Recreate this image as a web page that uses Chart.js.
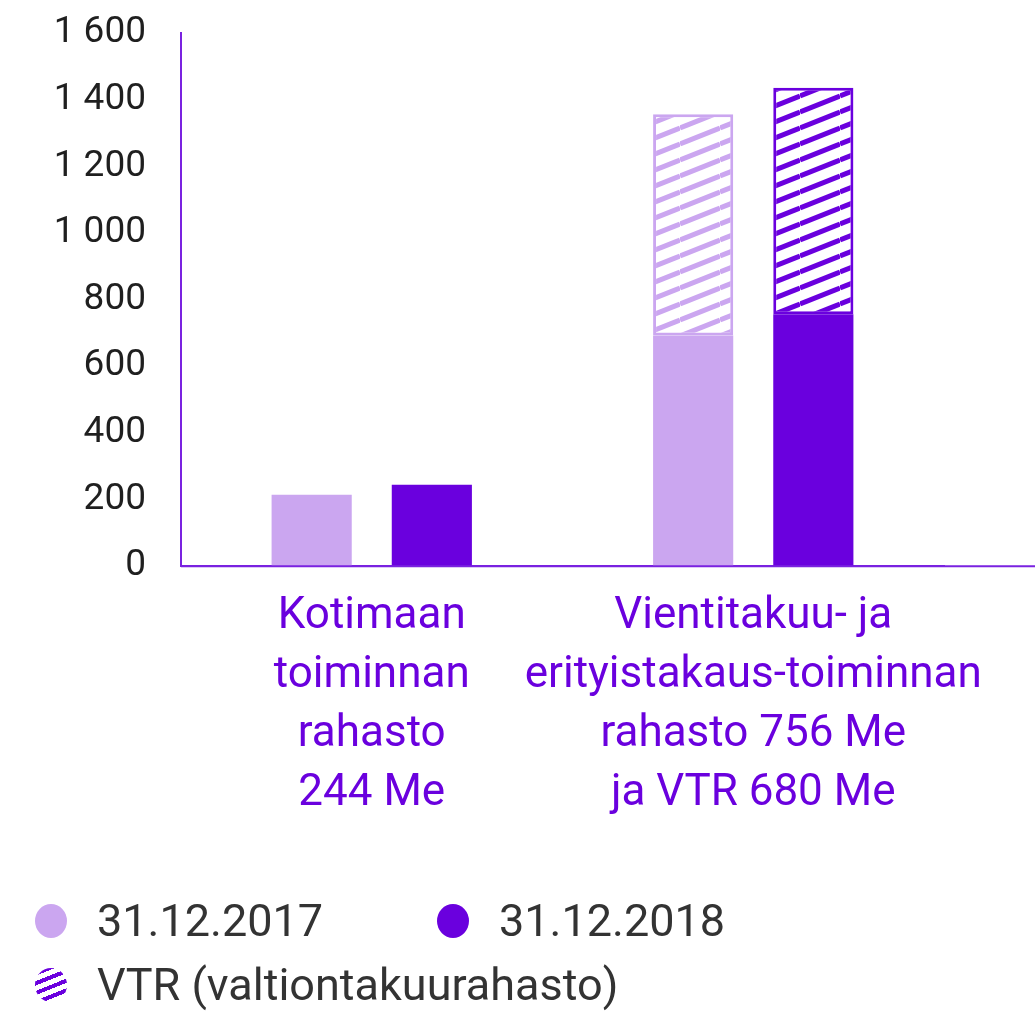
<!DOCTYPE html>
<html>
<head>
<meta charset="utf-8">
<script src="https://cdn.jsdelivr.net/npm/chart.js@4/dist/chart.umd.min.js"></script>
<style>
  body { margin: 0; background: #fff; }
  #wrap { position: relative; width: 1035px; height: 1011px; }
  #legend { position: absolute; left: 0; top: 0; font-family: Roboto, sans-serif; font-size: 45px; color: #333; }
  .item { position: absolute; white-space: nowrap; line-height: 50px; }
  .dot { position: absolute; width: 32px; height: 34px; border-radius: 50%; }
</style>
</head>
<body>
<div id="wrap">
  <canvas id="myChart" width="1035" height="1011"></canvas>
  <div id="legend">
    <span class="dot" style="left:35px;top:904px;background:#cba6f0"></span>
    <span class="item" style="left:97px;top:896px">31.12.2017</span>
    <span class="dot" style="left:437px;top:904px;background:#6a00de"></span>
    <span class="item" style="left:499px;top:896px">31.12.2018</span>
    <span class="dot" style="left:35px;top:968px;background:repeating-linear-gradient(-22deg,#6a00de 0 4px,#fff 4px 9px)"></span>
    <span class="item" style="left:97px;top:960px">VTR (valtiontakuurahasto)</span>
  </div>
</div>
<script>
	// rahastot, Me
	var categories = [
		['Kotimaan', 'toiminnan', 'rahasto', '244 Me'],
		['Vientitakuu- ja', 'erityistakaus-toiminnan', 'rahasto 756 Me', 'ja VTR 680 Me']
	];
	var rahasto2017 = [214, 692];
	var rahasto2018 = [244, 756];
	var vtr2017 = [0, 664];
	var vtr2018 = [0, 680];
	var yTicks = [0, 200, 400, 600, 800, 1000, 1200, 1400, 1600];

	var light = '#cba6f0';
	var dark = '#6a00de';

	function hatch(color) {
		var c = document.createElement('canvas');
		c.width = 40; c.height = 16;
		var x = c.getContext('2d');
		x.fillStyle = '#fff';
		x.fillRect(0, 0, 40, 16);
		x.strokeStyle = color;
		x.lineWidth = 5;
		for (var k = -1; k <= 1; k++) {
			x.beginPath();
			x.moveTo(0, 16 + k * 16);
			x.lineTo(40, k * 16);
			x.stroke();
		}
		return x.createPattern(c, 'repeat');
	}

	function fmt(v) {
		if (v >= 1000) return Math.floor(v / 1000) + ' ' + String(v % 1000).padStart(3, '0');
		return String(v);
	}

	// x axis line runs on to the right edge
	var axisExtend = {
		id: 'axisExtend',
		afterDraw: function(chart) {
			var a = chart.chartArea, ctx = chart.ctx;
			ctx.save();
			ctx.strokeStyle = '#7a22e0';
			ctx.lineWidth = 2;
			ctx.beginPath();
			ctx.moveTo(a.left, a.bottom);
			ctx.lineTo(chart.width, a.bottom);
			ctx.stroke();
			ctx.restore();
		}
	};

	var data = {
		labels: categories,
		datasets: [
			{ label: '31.12.2017', data: rahasto2017, backgroundColor: light, stack: 'a', borderWidth: 0 },
			{ label: '31.12.2018', data: rahasto2018, backgroundColor: dark, stack: 'b', borderWidth: 0 },
			{ label: 'VTR 2017', data: vtr2017, backgroundColor: hatch(light), borderColor: light, borderWidth: 3, borderSkipped: false, stack: 'a' },
			{ label: 'VTR 2018', data: vtr2018, backgroundColor: hatch(dark), borderColor: dark, borderWidth: 3, borderSkipped: false, stack: 'b' }
		]
	};

	var config = {
		type: 'bar',
		data: data,
		plugins: [axisExtend],
		options: {
			responsive: false,
			animation: false,
			categoryPercentage: 0.63,
			barPercentage: 0.667,
			layout: { padding: { top: 33, right: 91, bottom: 175, left: 0 } },
			plugins: {
				legend: { display: false },
				tooltip: { enabled: false }
			},
			scales: {
				x: {
					stacked: true,
					grid: { display: false },
					border: { display: true, color: '#7a22e0', width: 2 },
					ticks: {
						color: '#6a00de',
						padding: 13,
						maxRotation: 0,
						autoSkip: false,
						font: { family: 'Roboto', size: 44, lineHeight: 1.34 }
					}
				},
				y: {
					stacked: true,
					min: 0,
					max: 1600,
					afterFit: function(s) { s.width = 181; s.paddingTop = 0; s.paddingBottom = 0; },
					afterBuildTicks: function(s) { s.ticks = yTicks.map(function(v) { return { value: v }; }); },
					grid: { display: false, drawTicks: false },
					border: { display: true, color: '#7a22e0', width: 2 },
					ticks: {
						color: '#1f1f1f',
						padding: 35,
						font: { family: 'Roboto', size: 37 },
						callback: function(v) { return fmt(v); }
					}
				}
			}
		}
	};

	var myChart = new Chart(document.getElementById('myChart'), config);
</script>
</body>
</html>
